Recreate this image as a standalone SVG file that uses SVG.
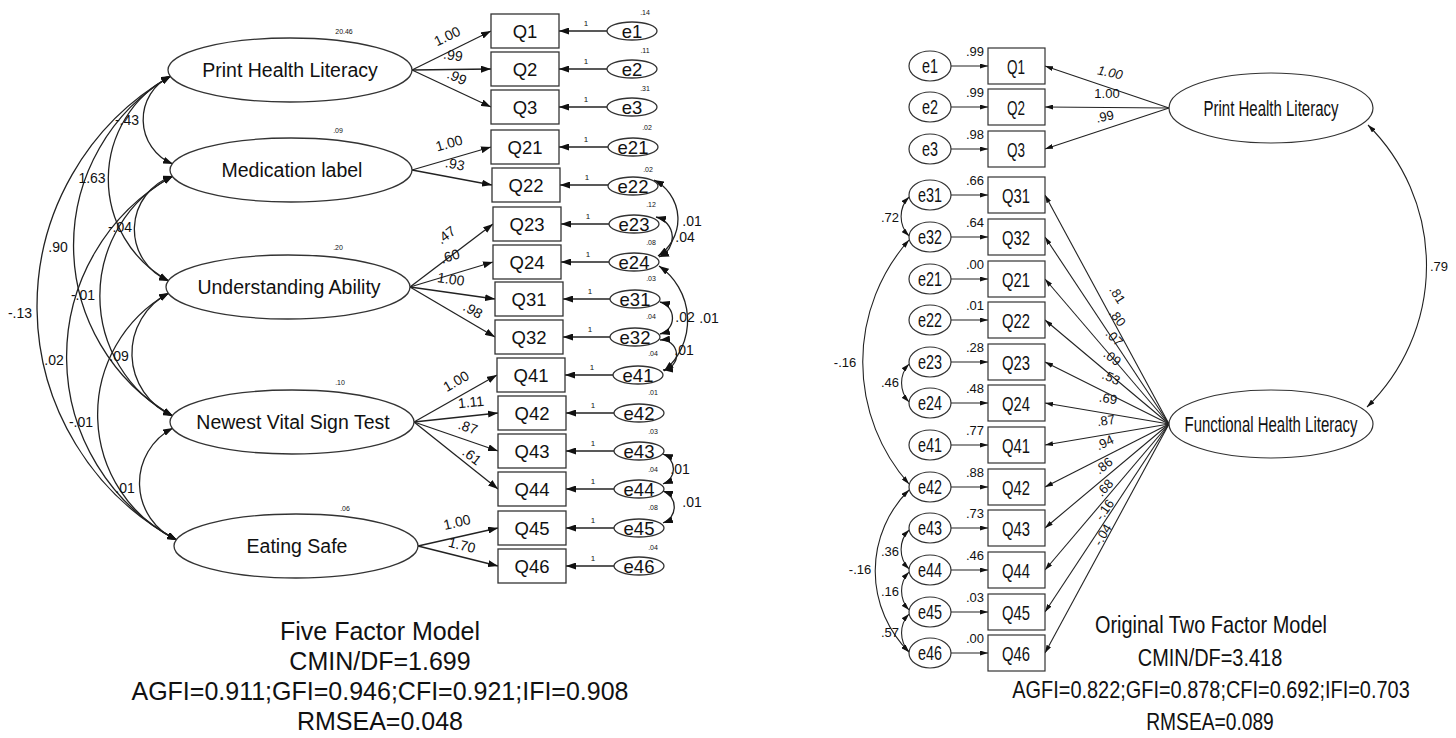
<svg xmlns="http://www.w3.org/2000/svg" width="1456" height="738" viewBox="0 0 1456 738">
<defs>
<marker id="ah" viewBox="0 0 10 10" refX="10" refY="5" markerWidth="10" markerHeight="7" markerUnits="userSpaceOnUse" orient="auto-start-reverse" preserveAspectRatio="none"><path d="M0,0 L10,5 L0,10 z" fill="#111"/></marker>
<marker id="ahs" viewBox="0 0 10 10" refX="10" refY="5" markerWidth="8" markerHeight="5" markerUnits="userSpaceOnUse" orient="auto-start-reverse" preserveAspectRatio="none"><path d="M0,0 L10,5 L0,10 z" fill="#111"/></marker>
</defs>
<style>
.bg{fill:#fff}
.sh{fill:#fff;stroke:#333;stroke-width:1.3}
.shr{fill:#fff;stroke:#333;stroke-width:1.2}
.ln{fill:none;stroke:#222;stroke-width:1.3}
.lnr{fill:none;stroke:#222;stroke-width:1.1}
.a{marker-end:url(#ah)}
.aa{marker-start:url(#ah);marker-end:url(#ah)}
.ar{marker-end:url(#ahs)}
.aar{marker-start:url(#ahs);marker-end:url(#ahs)}
text{font-family:"Liberation Sans",Arial,sans-serif;fill:#111}
.nm{font-size:19.5px;text-anchor:middle}
.bx{font-size:18.5px;text-anchor:middle}
.lb{font-size:14px;text-anchor:middle}
.one{font-size:8px;text-anchor:middle}
.vr{font-size:7px;text-anchor:middle}
.nr{font-family:"Liberation Sans Narrow","Arial Narrow","Liberation Sans",sans-serif}
.rb{font-size:21px;text-anchor:middle}
.rn{font-size:22px;text-anchor:middle}
.rs{font-size:13px;text-anchor:middle}
.ri{font-size:13px;text-anchor:middle;font-style:italic}
.big{font-size:25px;text-anchor:middle}
.bigr{font-size:24px;text-anchor:middle}
</style>
<rect class="bg" x="0" y="0" width="1456" height="738"/>

<g id="connectors">
<!-- LEFT: factor covariances -->
<path class="ln aa" d="M171,76 A48,48 0 0,0 173,164"/>
<path class="ln aa" d="M171,76 A116,116 0 0,0 169,281"/>
<path class="ln aa" d="M171,76 A196,196 0 0,0 173,416"/>
<path class="ln aa" d="M171,76 A265,265 0 0,0 177,540"/>
<path class="ln aa" d="M173,176 A56,56 0 0,0 169,281"/>
<path class="ln aa" d="M173,176 A135,135 0 0,0 173,416"/>
<path class="ln aa" d="M173,176 A207,207 0 0,0 177,540"/>
<path class="ln aa" d="M169,293 A68,68 0 0,0 173,416"/>
<path class="ln aa" d="M169,293 A139,139 0 0,0 177,540"/>
<path class="ln aa" d="M173,428 A62,62 0 0,0 177,540"/>
<text class="lb" x="127" y="125">-.43</text>
<text class="lb" x="92" y="183">1.63</text>
<text class="lb" x="120" y="232">-.04</text>
<text class="lb" x="58" y="252">.90</text>
<text class="lb" x="83" y="300">-.01</text>
<text class="lb" x="20" y="318">-.13</text>
<text class="lb" x="119" y="361">.09</text>
<text class="lb" x="54" y="365">.02</text>
<text class="lb" x="81" y="427">-.01</text>
<text class="lb" x="125" y="493">.01</text>

<!-- LEFT: loadings -->
<line class="ln a" x1="412" y1="70" x2="491" y2="31"/>
<line class="ln a" x1="412" y1="70" x2="491" y2="69"/>
<line class="ln a" x1="412" y1="70" x2="491" y2="107"/>
<line class="ln a" x1="412" y1="170" x2="491" y2="147"/>
<line class="ln a" x1="412" y1="170" x2="492" y2="185"/>
<line class="ln a" x1="410" y1="287" x2="493" y2="224"/>
<line class="ln a" x1="410" y1="287" x2="493" y2="262"/>
<line class="ln a" x1="410" y1="287" x2="495" y2="299"/>
<line class="ln a" x1="410" y1="287" x2="495" y2="337"/>
<line class="ln a" x1="414" y1="422" x2="497" y2="375"/>
<line class="ln a" x1="414" y1="422" x2="498" y2="413"/>
<line class="ln a" x1="414" y1="422" x2="498" y2="451"/>
<line class="ln a" x1="414" y1="422" x2="498" y2="489"/>
<line class="ln a" x1="418" y1="546" x2="498" y2="528"/>
<line class="ln a" x1="418" y1="546" x2="498" y2="566"/>
<text class="lb" transform="translate(447,36) rotate(-26)" y="5">1.00</text>
<text class="lb" transform="translate(453,55) rotate(8)" y="5">.99</text>
<text class="lb" transform="translate(457,77) rotate(25)" y="5">.99</text>
<text class="lb" transform="translate(449,143) rotate(-16)" y="5">1.00</text>
<text class="lb" transform="translate(455,164) rotate(11)" y="5">.93</text>
<text class="lb" transform="translate(446,235) rotate(-37)" y="5">.47</text>
<text class="lb" transform="translate(450,256) rotate(-17)" y="5">.60</text>
<text class="lb" transform="translate(451,279) rotate(8)" y="5">1.00</text>
<text class="lb" transform="translate(473,310) rotate(30)" y="5">.98</text>
<text class="lb" transform="translate(456,381) rotate(-30)" y="5">1.00</text>
<text class="lb" transform="translate(471,402) rotate(-6)" y="5">1.11</text>
<text class="lb" transform="translate(468,427) rotate(19)" y="5">.87</text>
<text class="lb" transform="translate(472,456) rotate(38)" y="5">.61</text>
<text class="lb" transform="translate(457,522) rotate(-13)" y="5">1.00</text>
<text class="lb" transform="translate(462,545) rotate(14)" y="5">1.70</text>

<!-- LEFT: error arrows -->
<line class="ln a" x1="607" y1="31" x2="559" y2="31"/>
<line class="ln a" x1="607" y1="69" x2="559" y2="69"/>
<line class="ln a" x1="607" y1="107" x2="559" y2="107"/>
<line class="ln a" x1="608" y1="147" x2="559" y2="147"/>
<line class="ln a" x1="608" y1="185" x2="560" y2="185"/>
<line class="ln a" x1="609" y1="224" x2="561" y2="224"/>
<line class="ln a" x1="609" y1="262" x2="561" y2="262"/>
<line class="ln a" x1="610" y1="299" x2="563" y2="299"/>
<line class="ln a" x1="610" y1="337" x2="563" y2="337"/>
<line class="ln a" x1="613" y1="375" x2="565" y2="375"/>
<line class="ln a" x1="614" y1="413" x2="566" y2="413"/>
<line class="ln a" x1="614" y1="451" x2="566" y2="451"/>
<line class="ln a" x1="614" y1="489" x2="566" y2="489"/>
<line class="ln a" x1="614" y1="528" x2="566" y2="528"/>
<line class="ln a" x1="614" y1="566" x2="566" y2="566"/>
<text class="one" x="586" y="26">1</text>
<text class="one" x="586" y="64">1</text>
<text class="one" x="586" y="102">1</text>
<text class="one" x="586" y="142">1</text>
<text class="one" x="587" y="180">1</text>
<text class="one" x="588" y="219">1</text>
<text class="one" x="588" y="257">1</text>
<text class="one" x="590" y="294">1</text>
<text class="one" x="590" y="332">1</text>
<text class="one" x="592" y="370">1</text>
<text class="one" x="593" y="408">1</text>
<text class="one" x="593" y="446">1</text>
<text class="one" x="593" y="484">1</text>
<text class="one" x="593" y="523">1</text>
<text class="one" x="593" y="561">1</text>

<!-- LEFT: error covariances -->
<path class="ln aa" d="M654,180 A44,44 0 0,1 658,256"/>
<path class="ln aa" d="M656,217 A21,21 0 0,1 659,257"/>
<path class="ln aa" d="M659,266 A66,66 0 0,1 664,371"/>
<path class="ln aa" d="M660,302 A16.5,16.5 0 0,1 660,334"/>
<path class="ln aa" d="M660,340 A15,15 0 0,1 663,370"/>
<path class="ln aa" d="M663,454 A16,16 0 0,1 663,484"/>
<path class="ln aa" d="M663,491 A17,17 0 0,1 663,523"/>
<text class="lb" x="692" y="226">.01</text>
<text class="lb" x="685" y="242">.04</text>
<text class="lb" x="709" y="323">.01</text>
<text class="lb" x="685" y="322">.02</text>
<text class="lb" x="684" y="355">.01</text>
<text class="lb" x="680" y="474">.01</text>
<text class="lb" x="692" y="507">.01</text>

<!-- RIGHT: error arrows -->
<line class="lnr ar" x1="951" y1="66" x2="988" y2="66"/>
<line class="lnr ar" x1="951" y1="107" x2="988" y2="107"/>
<line class="lnr ar" x1="951" y1="149" x2="988" y2="149"/>
<line class="lnr ar" x1="951" y1="195" x2="988" y2="195"/>
<line class="lnr ar" x1="951" y1="237" x2="988" y2="237"/>
<line class="lnr ar" x1="951" y1="279" x2="988" y2="279"/>
<line class="lnr ar" x1="951" y1="320" x2="988" y2="320"/>
<line class="lnr ar" x1="951" y1="362" x2="988" y2="362"/>
<line class="lnr ar" x1="951" y1="403" x2="988" y2="403"/>
<line class="lnr ar" x1="951" y1="445" x2="988" y2="445"/>
<line class="lnr ar" x1="951" y1="487" x2="988" y2="487"/>
<line class="lnr ar" x1="951" y1="528" x2="988" y2="528"/>
<line class="lnr ar" x1="951" y1="570" x2="988" y2="570"/>
<line class="lnr ar" x1="951" y1="612" x2="988" y2="612"/>
<line class="lnr ar" x1="951" y1="653" x2="988" y2="653"/>
<text class="nr rs" x="975" y="56">.99</text>
<text class="nr rs" x="975" y="97">.99</text>
<text class="nr rs" x="975" y="139">.98</text>
<text class="nr rs" x="975" y="185">.66</text>
<text class="nr rs" x="975" y="227">.64</text>
<text class="nr rs" x="975" y="269">.00</text>
<text class="nr rs" x="975" y="310">.01</text>
<text class="nr rs" x="975" y="352">.28</text>
<text class="nr rs" x="975" y="393">.48</text>
<text class="nr rs" x="975" y="435">.77</text>
<text class="nr rs" x="975" y="477">.88</text>
<text class="nr rs" x="975" y="518">.73</text>
<text class="nr rs" x="975" y="560">.46</text>
<text class="nr rs" x="975" y="602">.03</text>
<text class="nr rs" x="975" y="643">.00</text>

<!-- RIGHT: loadings -->
<line class="lnr ar" x1="1169" y1="108" x2="1045" y2="66"/>
<line class="lnr ar" x1="1169" y1="108" x2="1045" y2="107"/>
<line class="lnr ar" x1="1169" y1="108" x2="1045" y2="149"/>
<line class="lnr ar" x1="1169" y1="424" x2="1045" y2="195"/>
<line class="lnr ar" x1="1169" y1="424" x2="1045" y2="237"/>
<line class="lnr ar" x1="1169" y1="424" x2="1045" y2="279"/>
<line class="lnr ar" x1="1169" y1="424" x2="1045" y2="320"/>
<line class="lnr ar" x1="1169" y1="424" x2="1045" y2="362"/>
<line class="lnr ar" x1="1169" y1="424" x2="1045" y2="403"/>
<line class="lnr ar" x1="1169" y1="424" x2="1045" y2="445"/>
<line class="lnr ar" x1="1169" y1="424" x2="1045" y2="487"/>
<line class="lnr ar" x1="1169" y1="424" x2="1045" y2="528"/>
<line class="lnr ar" x1="1169" y1="424" x2="1045" y2="570"/>
<line class="lnr ar" x1="1169" y1="424" x2="1045" y2="612"/>
<line class="lnr ar" x1="1169" y1="424" x2="1045" y2="653"/>
<text class="nr ri" transform="translate(1110,73) rotate(12)" y="4">1.00</text>
<text class="nr rs" transform="translate(1107,94)" y="4">1.00</text>
<text class="nr rs" transform="translate(1105,117) rotate(-12)" y="4">.99</text>
<text class="nr rs" transform="translate(1117,295) rotate(58)" y="4">.81</text>
<text class="nr rs" transform="translate(1117,318) rotate(53)" y="4">.80</text>
<text class="nr rs" transform="translate(1114,338) rotate(46)" y="4">.07</text>
<text class="nr rs" transform="translate(1112,358) rotate(37)" y="4">.09</text>
<text class="nr rs" transform="translate(1111,378) rotate(24)" y="4">.53</text>
<text class="nr rs" transform="translate(1108,399) rotate(9)" y="4">.69</text>
<text class="nr rs" transform="translate(1106,421) rotate(-9)" y="4">.87</text>
<text class="nr rs" transform="translate(1105,443) rotate(-25)" y="4">.94</text>
<text class="nr rs" transform="translate(1104,466) rotate(-38)" y="4">.86</text>
<text class="nr rs" transform="translate(1105,488) rotate(-47)" y="4">.68</text>
<text class="nr rs" transform="translate(1105,510) rotate(-54)" y="4">-.16</text>
<text class="nr rs" transform="translate(1103,535) rotate(-59)" y="4">-.04</text>

<!-- RIGHT: covariances -->
<path class="lnr aar" d="M1368,125 A198,198 0 0,1 1367,407"/>
<text class="nr rs" x="1439" y="271">.79</text>
<path class="lnr aar" d="M909,197 A28,28 0 0,0 909,236"/>
<path class="lnr aar" d="M909,240 A184,184 0 0,0 909,484"/>
<path class="lnr aar" d="M909,364 A28,28 0 0,0 909,402"/>
<path class="lnr aar" d="M909,490 A114,114 0 0,0 909,652"/>
<path class="lnr aar" d="M909,530 A28,28 0 0,0 909,569"/>
<path class="lnr aar" d="M909,572 A28,28 0 0,0 909,610"/>
<path class="lnr aar" d="M909,614 A28,28 0 0,0 909,652"/>
<text class="nr rs" x="890" y="222">.72</text>
<text class="nr rs" x="845" y="367">-.16</text>
<text class="nr rs" x="890" y="387">.46</text>
<text class="nr rs" x="860" y="574">-.16</text>
<text class="nr rs" x="890" y="556">.36</text>
<text class="nr rs" x="890" y="596">.16</text>
<text class="nr rs" x="890" y="637">.57</text>
</g>

<!-- LEFT factor nodes -->
<g id="L-PHL"><ellipse class="sh" cx="290" cy="70" rx="122" ry="32"/><text class="nm" x="290" y="77">Print Health Literacy</text><text class="vr" x="344" y="34">20.46</text></g>
<g id="L-ML"><ellipse class="sh" cx="291" cy="170" rx="121" ry="32"/><text class="nm" x="292" y="177">Medication label</text><text class="vr" x="338" y="133">.09</text></g>
<g id="L-UA"><ellipse class="sh" cx="288" cy="287" rx="122" ry="32"/><text class="nm" x="289" y="294">Understanding Ability</text><text class="vr" x="338" y="250">.20</text></g>
<g id="L-NVST"><ellipse class="sh" cx="292" cy="422" rx="122" ry="32"/><text class="nm" x="293" y="429">Newest Vital Sign Test</text><text class="vr" x="340" y="385">.10</text></g>
<g id="L-ES"><ellipse class="sh" cx="296" cy="546" rx="122" ry="32"/><text class="nm" x="297" y="553">Eating Safe</text><text class="vr" x="345" y="511">.06</text></g>

<!-- LEFT observed -->
<g id="L-Q1"><rect class="sh" x="491" y="14" width="68" height="34"/><text class="bx" x="525" y="38">Q1</text></g>
<g id="L-Q2"><rect class="sh" x="491" y="52" width="68" height="34"/><text class="bx" x="525" y="76">Q2</text></g>
<g id="L-Q3"><rect class="sh" x="491" y="90" width="68" height="34"/><text class="bx" x="525" y="114">Q3</text></g>
<g id="L-Q21"><rect class="sh" x="491" y="130" width="68" height="34"/><text class="bx" x="525" y="154">Q21</text></g>
<g id="L-Q22"><rect class="sh" x="492" y="168" width="68" height="34"/><text class="bx" x="526" y="192">Q22</text></g>
<g id="L-Q23"><rect class="sh" x="493" y="207" width="68" height="34"/><text class="bx" x="527" y="231">Q23</text></g>
<g id="L-Q24"><rect class="sh" x="493" y="245" width="68" height="34"/><text class="bx" x="527" y="269">Q24</text></g>
<g id="L-Q31"><rect class="sh" x="495" y="282" width="68" height="34"/><text class="bx" x="529" y="306">Q31</text></g>
<g id="L-Q32"><rect class="sh" x="495" y="320" width="68" height="34"/><text class="bx" x="529" y="344">Q32</text></g>
<g id="L-Q41"><rect class="sh" x="497" y="358" width="68" height="34"/><text class="bx" x="531" y="382">Q41</text></g>
<g id="L-Q42"><rect class="sh" x="498" y="396" width="68" height="34"/><text class="bx" x="532" y="420">Q42</text></g>
<g id="L-Q43"><rect class="sh" x="498" y="434" width="68" height="34"/><text class="bx" x="532" y="458">Q43</text></g>
<g id="L-Q44"><rect class="sh" x="498" y="472" width="68" height="34"/><text class="bx" x="532" y="496">Q44</text></g>
<g id="L-Q45"><rect class="sh" x="498" y="511" width="68" height="34"/><text class="bx" x="532" y="535">Q45</text></g>
<g id="L-Q46"><rect class="sh" x="498" y="549" width="68" height="34"/><text class="bx" x="532" y="573">Q46</text></g>

<!-- LEFT errors -->
<g id="L-e1"><ellipse class="sh" cx="632" cy="31" rx="25" ry="9"/><text class="bx" x="632" y="38">e1</text><text class="vr" x="645" y="15">.14</text></g>
<g id="L-e2"><ellipse class="sh" cx="632" cy="69" rx="25" ry="9"/><text class="bx" x="632" y="76">e2</text><text class="vr" x="645" y="53">.11</text></g>
<g id="L-e3"><ellipse class="sh" cx="632" cy="107" rx="25" ry="9"/><text class="bx" x="632" y="114">e3</text><text class="vr" x="645" y="91">.31</text></g>
<g id="L-e21"><ellipse class="sh" cx="633" cy="147" rx="25" ry="9"/><text class="bx" x="633" y="154">e21</text><text class="vr" x="647" y="130">.02</text></g>
<g id="L-e22"><ellipse class="sh" cx="633" cy="186" rx="25" ry="9"/><text class="bx" x="633" y="193">e22</text><text class="vr" x="648" y="172">.02</text></g>
<g id="L-e23"><ellipse class="sh" cx="634" cy="224" rx="25" ry="9"/><text class="bx" x="634" y="231">e23</text><text class="vr" x="651" y="207">.12</text></g>
<g id="L-e24"><ellipse class="sh" cx="634" cy="262" rx="25" ry="9"/><text class="bx" x="634" y="269">e24</text><text class="vr" x="651" y="245">.08</text></g>
<g id="L-e31"><ellipse class="sh" cx="635" cy="299" rx="25" ry="9"/><text class="bx" x="635" y="306">e31</text><text class="vr" x="651" y="281">.03</text></g>
<g id="L-e32"><ellipse class="sh" cx="635" cy="337" rx="25" ry="9"/><text class="bx" x="635" y="344">e32</text><text class="vr" x="651" y="319">.04</text></g>
<g id="L-e41"><ellipse class="sh" cx="638" cy="375" rx="25" ry="9"/><text class="bx" x="638" y="382">e41</text><text class="vr" x="653" y="356">.04</text></g>
<g id="L-e42"><ellipse class="sh" cx="639" cy="413" rx="25" ry="9"/><text class="bx" x="639" y="420">e42</text><text class="vr" x="653" y="395">.01</text></g>
<g id="L-e43"><ellipse class="sh" cx="639" cy="451" rx="25" ry="9"/><text class="bx" x="639" y="458">e43</text><text class="vr" x="653" y="434">.03</text></g>
<g id="L-e44"><ellipse class="sh" cx="639" cy="489" rx="25" ry="9"/><text class="bx" x="639" y="496">e44</text><text class="vr" x="653" y="472">.04</text></g>
<g id="L-e45"><ellipse class="sh" cx="639" cy="528" rx="25" ry="9"/><text class="bx" x="639" y="535">e45</text><text class="vr" x="653" y="510">.08</text></g>
<g id="L-e46"><ellipse class="sh" cx="639" cy="566" rx="25" ry="9"/><text class="bx" x="639" y="573">e46</text><text class="vr" x="653" y="550">.04</text></g>

<!-- RIGHT factor nodes -->
<g id="R-PHL"><ellipse class="shr" cx="1271" cy="108" rx="102" ry="35"/><text class="nr rn" x="1271" y="116" textLength="135" lengthAdjust="spacingAndGlyphs">Print Health Literacy</text></g>
<g id="R-FHL"><ellipse class="shr" cx="1271" cy="424" rx="102" ry="34"/><text class="nr rn" x="1271" y="432" textLength="173" lengthAdjust="spacingAndGlyphs">Functional Health Literacy</text></g>

<!-- RIGHT observed -->
<g id="R-Q1"><rect class="shr" x="988" y="48" width="57" height="36"/><text class="nr rb" x="1016" y="74" textLength="18" lengthAdjust="spacingAndGlyphs">Q1</text></g>
<g id="R-Q2"><rect class="shr" x="988" y="89" width="57" height="36"/><text class="nr rb" x="1016" y="115" textLength="18" lengthAdjust="spacingAndGlyphs">Q2</text></g>
<g id="R-Q3"><rect class="shr" x="988" y="131" width="57" height="36"/><text class="nr rb" x="1016" y="157" textLength="18" lengthAdjust="spacingAndGlyphs">Q3</text></g>
<g id="R-Q31"><rect class="shr" x="988" y="177" width="57" height="36"/><text class="nr rb" x="1016" y="203" textLength="28" lengthAdjust="spacingAndGlyphs">Q31</text></g>
<g id="R-Q32"><rect class="shr" x="988" y="219" width="57" height="36"/><text class="nr rb" x="1016" y="245" textLength="28" lengthAdjust="spacingAndGlyphs">Q32</text></g>
<g id="R-Q21"><rect class="shr" x="988" y="261" width="57" height="36"/><text class="nr rb" x="1016" y="287" textLength="28" lengthAdjust="spacingAndGlyphs">Q21</text></g>
<g id="R-Q22"><rect class="shr" x="988" y="302" width="57" height="36"/><text class="nr rb" x="1016" y="328" textLength="28" lengthAdjust="spacingAndGlyphs">Q22</text></g>
<g id="R-Q23"><rect class="shr" x="988" y="344" width="57" height="36"/><text class="nr rb" x="1016" y="370" textLength="28" lengthAdjust="spacingAndGlyphs">Q23</text></g>
<g id="R-Q24"><rect class="shr" x="988" y="385" width="57" height="36"/><text class="nr rb" x="1016" y="411" textLength="28" lengthAdjust="spacingAndGlyphs">Q24</text></g>
<g id="R-Q41"><rect class="shr" x="988" y="427" width="57" height="36"/><text class="nr rb" x="1016" y="453" textLength="28" lengthAdjust="spacingAndGlyphs">Q41</text></g>
<g id="R-Q42"><rect class="shr" x="988" y="469" width="57" height="36"/><text class="nr rb" x="1016" y="495" textLength="28" lengthAdjust="spacingAndGlyphs">Q42</text></g>
<g id="R-Q43"><rect class="shr" x="988" y="510" width="57" height="36"/><text class="nr rb" x="1016" y="536" textLength="28" lengthAdjust="spacingAndGlyphs">Q43</text></g>
<g id="R-Q44"><rect class="shr" x="988" y="552" width="57" height="36"/><text class="nr rb" x="1016" y="578" textLength="28" lengthAdjust="spacingAndGlyphs">Q44</text></g>
<g id="R-Q45"><rect class="shr" x="988" y="594" width="57" height="36"/><text class="nr rb" x="1016" y="620" textLength="28" lengthAdjust="spacingAndGlyphs">Q45</text></g>
<g id="R-Q46"><rect class="shr" x="988" y="635" width="57" height="36"/><text class="nr rb" x="1016" y="661" textLength="28" lengthAdjust="spacingAndGlyphs">Q46</text></g>

<!-- RIGHT errors -->
<g id="R-e1"><ellipse class="shr" cx="930" cy="66" rx="21" ry="15"/><text class="nr rb" x="930" y="73" textLength="16" lengthAdjust="spacingAndGlyphs">e1</text></g>
<g id="R-e2"><ellipse class="shr" cx="930" cy="107" rx="21" ry="15"/><text class="nr rb" x="930" y="114" textLength="16" lengthAdjust="spacingAndGlyphs">e2</text></g>
<g id="R-e3"><ellipse class="shr" cx="930" cy="149" rx="21" ry="15"/><text class="nr rb" x="930" y="156" textLength="16" lengthAdjust="spacingAndGlyphs">e3</text></g>
<g id="R-e31"><ellipse class="shr" cx="930" cy="195" rx="21" ry="15"/><text class="nr rb" x="930" y="202" textLength="24" lengthAdjust="spacingAndGlyphs">e31</text></g>
<g id="R-e32"><ellipse class="shr" cx="930" cy="237" rx="21" ry="15"/><text class="nr rb" x="930" y="244" textLength="24" lengthAdjust="spacingAndGlyphs">e32</text></g>
<g id="R-e21"><ellipse class="shr" cx="930" cy="279" rx="21" ry="15"/><text class="nr rb" x="930" y="286" textLength="24" lengthAdjust="spacingAndGlyphs">e21</text></g>
<g id="R-e22"><ellipse class="shr" cx="930" cy="320" rx="21" ry="15"/><text class="nr rb" x="930" y="327" textLength="24" lengthAdjust="spacingAndGlyphs">e22</text></g>
<g id="R-e23"><ellipse class="shr" cx="930" cy="362" rx="21" ry="15"/><text class="nr rb" x="930" y="369" textLength="24" lengthAdjust="spacingAndGlyphs">e23</text></g>
<g id="R-e24"><ellipse class="shr" cx="930" cy="403" rx="21" ry="15"/><text class="nr rb" x="930" y="410" textLength="24" lengthAdjust="spacingAndGlyphs">e24</text></g>
<g id="R-e41"><ellipse class="shr" cx="930" cy="445" rx="21" ry="15"/><text class="nr rb" x="930" y="452" textLength="24" lengthAdjust="spacingAndGlyphs">e41</text></g>
<g id="R-e42"><ellipse class="shr" cx="930" cy="487" rx="21" ry="15"/><text class="nr rb" x="930" y="494" textLength="24" lengthAdjust="spacingAndGlyphs">e42</text></g>
<g id="R-e43"><ellipse class="shr" cx="930" cy="528" rx="21" ry="15"/><text class="nr rb" x="930" y="535" textLength="24" lengthAdjust="spacingAndGlyphs">e43</text></g>
<g id="R-e44"><ellipse class="shr" cx="930" cy="570" rx="21" ry="15"/><text class="nr rb" x="930" y="577" textLength="24" lengthAdjust="spacingAndGlyphs">e44</text></g>
<g id="R-e45"><ellipse class="shr" cx="930" cy="612" rx="21" ry="15"/><text class="nr rb" x="930" y="619" textLength="24" lengthAdjust="spacingAndGlyphs">e45</text></g>
<g id="R-e46"><ellipse class="shr" cx="930" cy="653" rx="21" ry="15"/><text class="nr rb" x="930" y="660" textLength="24" lengthAdjust="spacingAndGlyphs">e46</text></g>

<!-- captions -->
<g id="caption-left">
<text class="big" x="380" y="640">Five Factor Model</text>
<text class="big" x="380" y="670">CMIN/DF=1.699</text>
<text class="big" x="380" y="700">AGFI=0.911;GFI=0.946;CFI=0.921;IFI=0.908</text>
<text class="big" x="380" y="730">RMSEA=0.048</text>
</g>
<g id="caption-right">
<text class="nr bigr" transform="translate(1211,633) scale(0.83,1)">Original Two Factor Model</text>
<text class="nr bigr" transform="translate(1210,666) scale(0.83,1)">CMIN/DF=3.418</text>
<text class="nr bigr" transform="translate(1211,698) scale(0.83,1)">AGFI=0.822;GFI=0.878;CFI=0.692;IFI=0.703</text>
<text class="nr bigr" transform="translate(1210,730) scale(0.8,1)">RMSEA=0.089</text>
</g>
</svg>
